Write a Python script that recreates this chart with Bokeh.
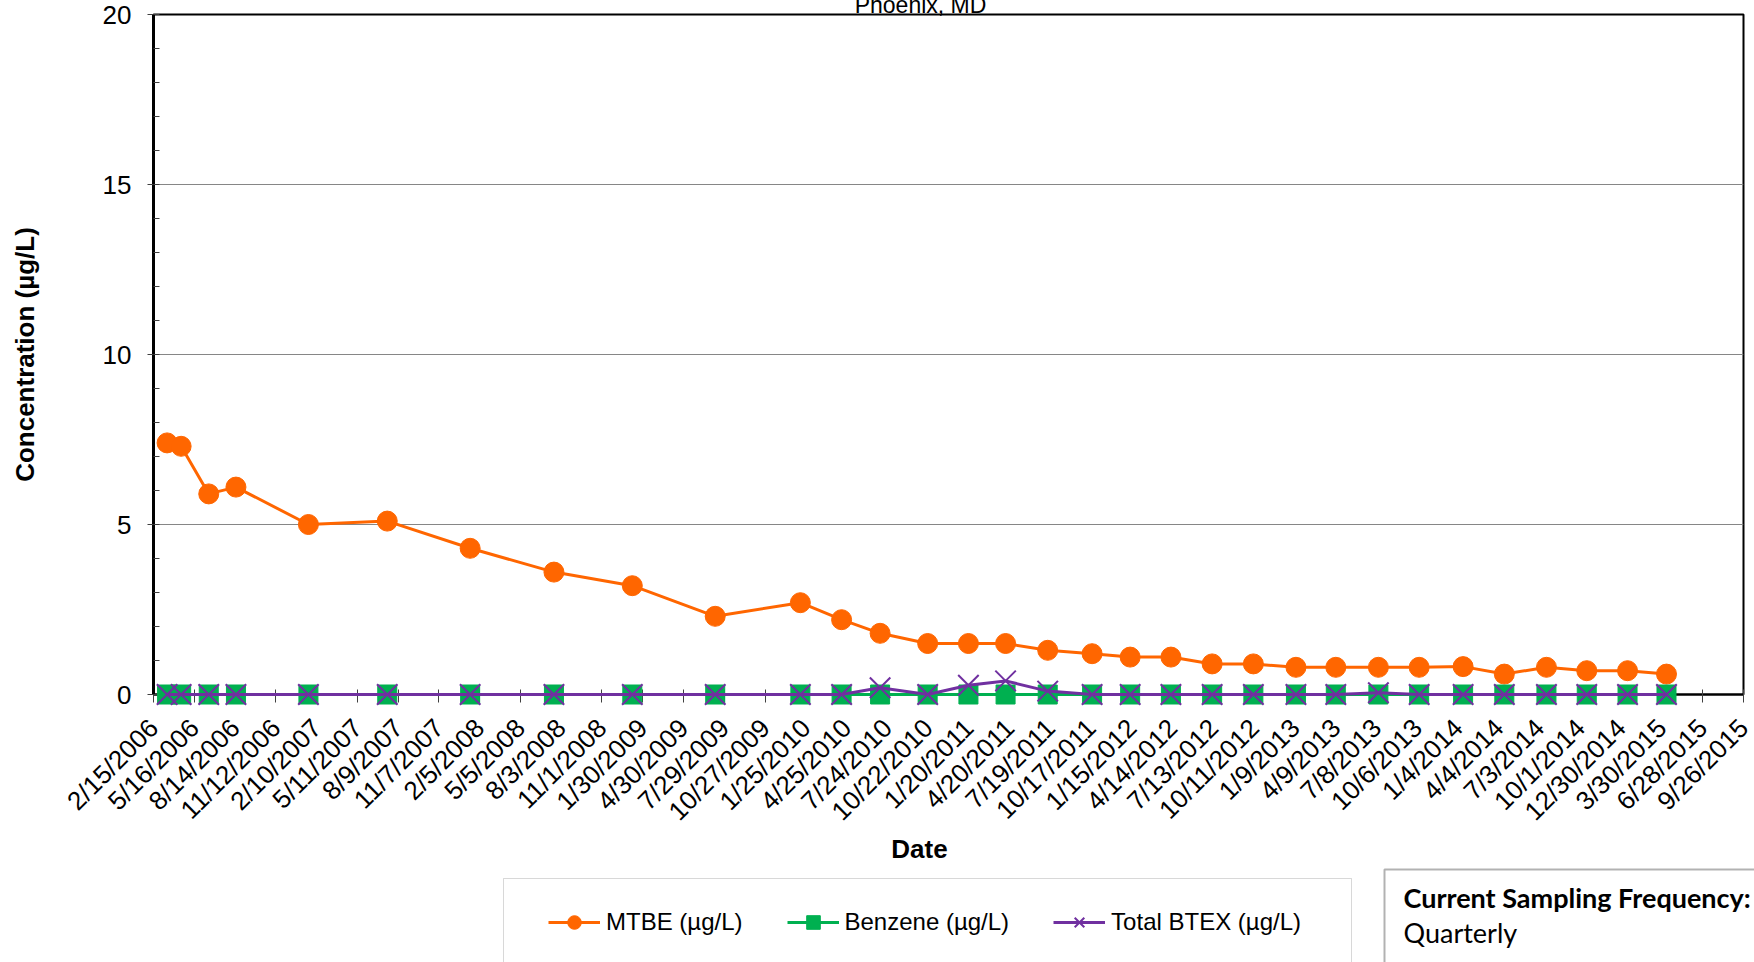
import pandas as pd
from math import pi
from bokeh.plotting import figure
from bokeh.layouts import column
from bokeh.models import (FixedTicker, Range1d, Label, Legend, LegendItem,
                          BoxAnnotation, ColumnDataSource, Plot)
from bokeh.core.properties import value
from bokeh.embed import file_html
from bokeh.resources import INLINE

# ---------------- data ----------------
sample_dates = ["3/17/2006", "4/17/2006", "6/17/2006", "8/16/2006", "1/23/2007",
                "7/16/2007", "1/15/2008", "7/18/2008", "1/7/2009", "7/9/2009",
                "1/13/2010", "4/14/2010", "7/8/2010", "10/21/2010", "1/19/2011",
                "4/11/2011", "7/13/2011", "10/19/2011", "1/11/2012", "4/10/2012",
                "7/10/2012", "10/9/2012", "1/11/2013", "4/9/2013", "7/12/2013",
                "10/10/2013", "1/15/2014", "4/16/2014", "7/18/2014", "10/15/2014",
                "1/13/2015", "4/9/2015"]
mtbe = [7.4, 7.3, 5.9, 6.1, 5.0, 5.1, 4.3, 3.6, 3.2, 2.3,
        2.7, 2.2, 1.8, 1.5, 1.5, 1.5, 1.3, 1.2, 1.1, 1.1,
        0.9, 0.9, 0.8, 0.8, 0.8, 0.8, 0.82, 0.6, 0.8, 0.7,
        0.7, 0.6]
benzene = [0, 0, 0, 0, 0, 0, 0, 0, 0, 0,
           0, 0, 0, 0, 0, 0, 0, 0, 0, 0,
           0, 0, 0, 0, 0, 0, 0, 0, 0, 0,
           0, 0]
total_btex = [0, 0, 0, 0, 0, 0, 0, 0, 0, 0,
              0, 0, 0.2, 0, 0.27, 0.4, 0.1, 0, 0, 0,
              0, 0, 0, 0, 0.05, 0, 0, 0, 0, 0,
              0, 0]
x_tick_labels = ["2/15/2006", "5/16/2006", "8/14/2006", "11/12/2006", "2/10/2007",
                 "5/11/2007", "8/9/2007", "11/7/2007", "2/5/2008", "5/5/2008",
                 "8/3/2008", "11/1/2008", "1/30/2009", "4/30/2009", "7/29/2009",
                 "10/27/2009", "1/25/2010", "4/25/2010", "7/24/2010", "10/22/2010",
                 "1/20/2011", "4/20/2011", "7/19/2011", "10/17/2011", "1/15/2012",
                 "4/14/2012", "7/13/2012", "10/11/2012", "1/9/2013", "4/9/2013",
                 "7/8/2013", "10/6/2013", "1/4/2014", "4/4/2014", "7/3/2014",
                 "10/1/2014", "12/30/2014", "3/30/2015", "6/28/2015", "9/26/2015"]
y_ticks = [0, 5, 10, 15, 20]
y_minor_ticks = list(range(0, 21))
series_names = ["MTBE (µg/L)", "Benzene (µg/L)", "Total BTEX (µg/L)"]
chart_title = "Phoenix, MD"
x_title = "Date"
y_title = "Concentration (µg/L)"
info_head = "Current Sampling Frequency:"
info_body = "Quarterly"

# ---------------- setup ----------------
FONT = "Liberation Sans"
ORANGE, GREEN, PURPLE = "#FF6600", "#00B050", "#7030A0"

dates = pd.to_datetime(sample_dates, format="%m/%d/%Y")
tick_dates = pd.to_datetime(x_tick_labels, format="%m/%d/%Y")
tick_ms = [float(t.value // 10**6) for t in tick_dates]

src = ColumnDataSource(dict(date=dates, mtbe=mtbe, benzene=benzene, btex=total_btex))

PAGE_W = 1754
FL, FR, FT, FB = 153, 1743, 14, 694   # frame edges on the page
BOT_Y = 866                           # page y where the bottom strip starts
MAIN_H = BOT_Y
BOT_H = 962 - BOT_Y

CAN_UNALIGN = "frame_align" in Plot.properties()
OFF = 0 if CAN_UNALIGN else FL       # x origin of the strip's frame on the page

# ---------------- main plot ----------------
p = figure(width=PAGE_W, height=MAIN_H, x_axis_type="datetime", output_backend="svg",
           toolbar_location=None,
           x_range=Range1d(tick_ms[0], tick_ms[-1]), y_range=Range1d(0, 20),
           min_border_left=FL, min_border_right=PAGE_W - FR,
           min_border_top=FT, min_border_bottom=BOT_Y - FB)
p.background_fill_color = "white"
p.border_fill_color = "white"
p.outline_line_color = "black"
p.outline_line_width = 2

xa = p.xaxis[0]
xa.ticker = FixedTicker(ticks=tick_ms)
xa.major_label_overrides = {t: s for t, s in zip(tick_ms, x_tick_labels)}
xa.major_label_orientation = pi / 4
xa.major_label_text_font = FONT
xa.major_label_text_font_size = "26px"
xa.major_label_text_color = "black"
xa.major_label_standoff = 21
xa.axis_line_color = "black"
xa.axis_line_width = 2
xa.major_tick_line_color = "#404040"
xa.major_tick_in = 5
xa.major_tick_out = 8
xa.minor_tick_line_color = None

ya = p.yaxis[0]
ya.ticker = FixedTicker(ticks=y_ticks, minor_ticks=y_minor_ticks)
ya.major_label_text_font = FONT
ya.major_label_text_font_size = "26px"
ya.major_label_text_color = "black"
ya.major_label_standoff = 16
ya.axis_line_color = "black"
ya.axis_line_width = 3
ya.major_tick_line_color = "#404040"
ya.major_tick_in = 0
ya.major_tick_out = 6
ya.minor_tick_line_color = "#404040"
ya.minor_tick_in = 6
ya.minor_tick_out = 0
ya.axis_label = y_title
ya.axis_label_text_font = FONT
ya.axis_label_text_font_style = "bold"
ya.axis_label_text_font_size = "26px"
ya.axis_label_text_color = "black"
ya.axis_label_standoff = 60

p.xgrid.visible = False
p.ygrid.ticker = FixedTicker(ticks=[5, 10, 15])
p.ygrid.grid_line_color = "#868686"
p.ygrid.grid_line_width = 1

# series (drawn above the axes so markers at 0 are not cut by the frame)
rs = []
rs.append(p.line("date", "mtbe", source=src, line_color=ORANGE, line_width=3))
rs.append(p.scatter("date", "mtbe", source=src, marker="circle", size=20,
                    fill_color=ORANGE, line_color=ORANGE))
rs.append(p.line("date", "benzene", source=src, line_color=GREEN, line_width=3))
rs.append(p.scatter("date", "benzene", source=src, marker="square", size=19,
                    fill_color=GREEN, line_color=GREEN))
rs.append(p.line("date", "btex", source=src, line_color=PURPLE, line_width=3))
rs.append(p.scatter("date", "btex", source=src, marker="x", size=29,
                    line_color=PURPLE, line_width=2))

# chart title (above the frame, cut by the page top) and x-axis title,
# anchored to the frame's top-left / bottom-left corner and offset in pixels
rs.append(p.text(x=[tick_ms[0]], y=[y_ticks[-1]], text=[chart_title],
                 x_offset=920 - FL, y_offset=4 - FT,
                 text_font=value(FONT), text_font_size="23px", text_color="black",
                 text_align="center", text_baseline="middle"))
rs.append(p.text(x=[tick_ms[0]], y=[y_ticks[0]], text=[x_title],
                 x_offset=919 - FL, y_offset=848 - FB,
                 text_font=value(FONT), text_font_size="26px", text_font_style="bold",
                 text_color="black", text_align="center", text_baseline="middle"))
for r in rs:
    r.level = "overlay"

# ---------------- bottom strip ----------------
bot = figure(width=PAGE_W, height=BOT_H, output_backend="svg", toolbar_location=None,
             x_axis_location=None, y_axis_location=None, min_border=0,
             x_range=Range1d(0, 1), y_range=Range1d(0, 1))
if CAN_UNALIGN:
    bot.frame_align = False
bot.outline_line_color = None
bot.grid.visible = False
bot.background_fill_color = "white"
bot.border_fill_color = "white"


def bx(x):
    return x - OFF


def by(y):
    return 962 - y


bot.add_layout(BoxAnnotation(left=bx(503), right=bx(1351), top=by(878), bottom=by(1010),
                             left_units="screen", right_units="screen",
                             top_units="screen", bottom_units="screen",
                             fill_color="white", fill_alpha=1.0,
                             line_color="#7f7f7f", line_width=1))
# legend keys: styled copies of the series glyphs, parked outside the strip's range
kx, ky = [5], [5]
dl1 = bot.line(kx, ky, line_color=ORANGE, line_width=3)
ds1 = bot.scatter(kx, ky, marker="circle", fill_color=ORANGE, line_color=ORANGE)
dl2 = bot.line(kx, ky, line_color=GREEN, line_width=3)
ds2 = bot.scatter(kx, ky, marker="square", fill_color=GREEN, line_color=GREEN)
dl3 = bot.line(kx, ky, line_color=PURPLE, line_width=3)
ds3 = bot.scatter(kx, ky, marker="x", line_color=PURPLE, line_width=2)
legend = Legend(items=[LegendItem(label=series_names[0], renderers=[dl1, ds1]),
                       LegendItem(label=series_names[1], renderers=[dl2, ds2]),
                       LegendItem(label=series_names[2], renderers=[dl3, ds3])],
                location=(bx(548), by(922 + 17)), orientation="horizontal",
                border_line_alpha=0, background_fill_alpha=0,
                glyph_width=52, glyph_height=34, label_height=34,
                label_standoff=6, spacing=44, padding=0, margin=0,
                label_text_font=FONT, label_text_font_size="24px",
                label_text_color="black")
bot.add_layout(legend)

bot.add_layout(BoxAnnotation(left=bx(1384), right=bx(1900), top=by(869), bottom=by(1010),
                             left_units="screen", right_units="screen",
                             top_units="screen", bottom_units="screen",
                             fill_color="white", fill_alpha=1.0,
                             line_color="black", line_width=2))
bot.add_layout(Label(x=bx(1403), y=by(897), x_units="screen", y_units="screen",
                     text=info_head, text_font="Lato", text_font_style="bold",
                     text_font_size="27px", text_color="black",
                     text_align="left", text_baseline="alphabetic"))
bot.add_layout(Label(x=bx(1403), y=by(932), x_units="screen", y_units="screen",
                     text=info_body, text_font="Lato",
                     text_font_size="27px", text_color="black",
                     text_align="left", text_baseline="alphabetic"))

layout = column(p, bot, spacing=0)
open("out.html", "w").write(file_html(layout, INLINE))
